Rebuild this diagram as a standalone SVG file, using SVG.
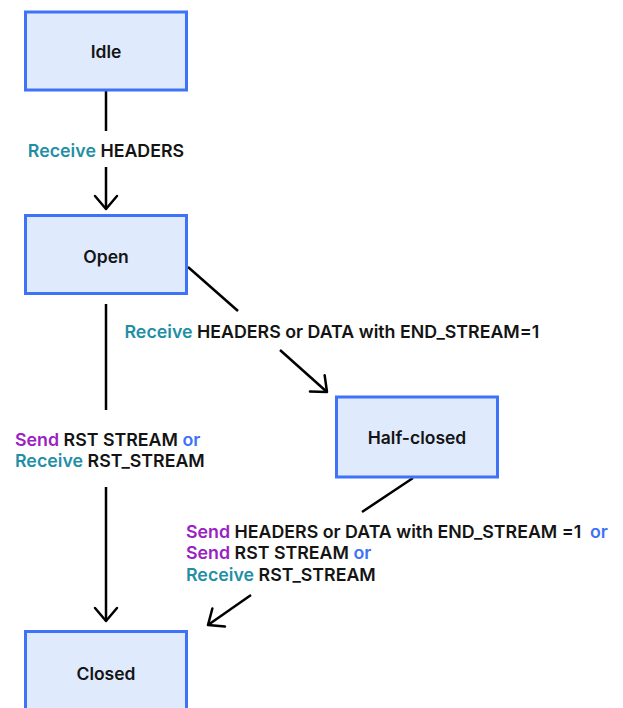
<svg xmlns="http://www.w3.org/2000/svg" width="623" height="708" viewBox="0 0 623 708">
<style>
.box{fill:#dfeafd;stroke:#3f73f7;stroke-width:3}
.lbl{font-family:Inter,"Liberation Sans",sans-serif;font-weight:600;font-size:17.8px;fill:#141414}
.name{font-family:Inter,"Liberation Sans",sans-serif;font-weight:600;font-size:17.5px;fill:#141414;text-anchor:middle}
.rcv{fill:#1f8fa6}
.snd{fill:#9a22c2}
.or{fill:#3f73f7}
.ln{stroke:#000;stroke-width:2.5;fill:none}
</style>
<defs>
<marker id="ah" markerUnits="userSpaceOnUse" viewBox="-16 -14 20 28" refX="0" refY="0" markerWidth="20" markerHeight="28" orient="auto">
<path d="M-13,-11 L0,0 L-13,11" fill="none" stroke="#000" stroke-width="2.5" stroke-linecap="round" stroke-linejoin="round"/>
</marker>
</defs>
<g id="connectors">
<line class="ln" x1="106" y1="91" x2="106" y2="131"/>
<line class="ln" x1="106" y1="167" x2="106" y2="209" marker-end="url(#ah)"/>
<line class="ln" x1="188" y1="267" x2="238" y2="311"/>
<line class="ln" x1="280" y1="350" x2="327" y2="392" marker-end="url(#ah)"/>
<line class="ln" x1="106" y1="304" x2="106" y2="410"/>
<line class="ln" x1="106" y1="487" x2="106" y2="621" marker-end="url(#ah)"/>
<line class="ln" x1="413" y1="478" x2="362" y2="512"/>
<line class="ln" x1="251" y1="595" x2="208" y2="625" marker-end="url(#ah)"/>
<text class="lbl" x="106" y="156.5" text-anchor="middle"><tspan class="rcv">Receive</tspan> HEADERS</text>
<text class="lbl" x="124.5" y="338"><tspan class="rcv">Receive</tspan> HEADERS or DATA with END_STREAM=1</text>
<text class="lbl" x="15" y="445.5"><tspan class="snd">Send</tspan> RST STREAM <tspan class="or">or</tspan></text>
<text class="lbl" x="15" y="466.5"><tspan class="rcv">Receive</tspan> RST_STREAM</text>
<text class="lbl" x="186" y="538"><tspan class="snd">Send</tspan> HEADERS or DATA with END_STREAM =1<tspan class="or" x="590">or</tspan></text>
<text class="lbl" x="186" y="559"><tspan class="snd">Send</tspan> RST STREAM <tspan class="or">or</tspan></text>
<text class="lbl" x="186" y="580.5"><tspan class="rcv">Receive</tspan> RST_STREAM</text>
</g>
<g id="idle"><rect class="box" x="25.5" y="12" width="161" height="78"/><text class="name" x="106" y="57.5">Idle</text></g>
<g id="open"><rect class="box" x="25.5" y="215.5" width="161" height="78"/><text class="name" x="106" y="262.5">Open</text></g>
<g id="half-closed"><rect class="box" x="336.5" y="397" width="161" height="80"/><text class="name" x="417" y="443.5">Half-closed</text></g>
<g id="closed"><rect class="box" x="25.5" y="631.5" width="161" height="90"/><text class="name" x="106" y="679.5">Closed</text></g>
</svg>
